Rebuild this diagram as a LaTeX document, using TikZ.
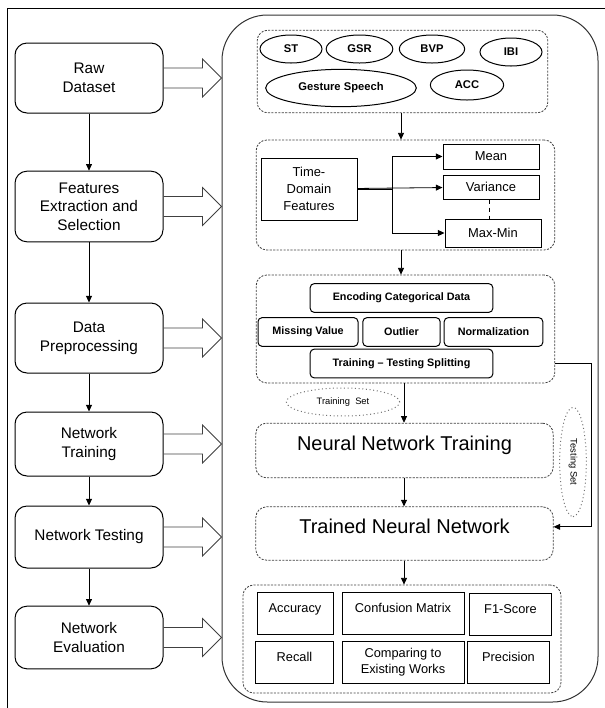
\documentclass[tikz,border=0pt]{standalone}
\usepackage{fontspec}
\setmainfont{Liberation Sans}
\usetikzlibrary{arrows.meta,shapes.geometric}

\tikzset{every picture/.style={line width=0.75pt}}
\tikzset{
  stepbox/.style={draw, rounded corners=9pt, minimum width=111pt, align=center, inner sep=0pt, font=\fontsize{11.5}{14}\selectfont},
  dashbox/.style={draw=black!75, dash pattern=on 1.6pt off 1pt, line width=0.6pt, rounded corners=8pt, inner sep=0pt},
  sensor/.style={draw, ellipse, inner sep=0pt, font=\bfseries\fontsize{8.4}{10}\selectfont},
  featbox/.style={draw, rectangle, inner sep=0pt, align=center, minimum width=72pt, font=\fontsize{9.7}{12.75}\selectfont},
  prepbox/.style={draw, rounded corners=3pt, inner sep=0pt, minimum height=21.5pt, font=\bfseries\fontsize{8.1}{10}\selectfont},
  setoval/.style={draw=black!55, ellipse, dotted, inner sep=0pt, font=\fontsize{7}{8}\selectfont},
  bigtext/.style={font=\fontsize{15}{18}\selectfont, text height=11pt, text depth=10.5pt},
  metric/.style={draw, rectangle, inner sep=0pt, align=center, font=\fontsize{9.6}{11.75}\selectfont},
  metrictop/.style={text height=7pt, text depth=8pt},
  flow/.style={-{Triangle[length=5pt,width=4.5pt]}, line width=0.6pt},
}
\newcommand{\fatarrow}[1]{\draw[black!75, line width=0.6pt] (#1.east) ++(0,-10) -- ++(39,0) -- ++(0,-9) -- ++(19,19) -- ++(-19,19) -- ++(0,-9) -- ++(-39,0);}

\begin{document}
\begin{tikzpicture}[x=0.75pt,y=0.75pt,yscale=-1,xscale=1]
	\useasboundingbox (0,0) rectangle (605,708);

	%Frame
	\draw (7,708) -- (7,8) -- (605,8);
	%Rounded panel
	\node[draw=black!80, rounded corners=34pt, minimum width=282pt, minimum height=515.25pt] (panel) at (410,358.5) {};

	%Left steps
	\node[stepbox, minimum height=52.5pt] (raw) at (89,78) {Raw\\Dataset};
	\node[stepbox, minimum height=53pt] (feat) at (89,206.5) {Features\\Extraction and\\Selection};
	\node[stepbox, minimum height=52.5pt] (prep) at (89,338) {Data\\Preprocessing};
	\node[stepbox, minimum height=48pt] (train) at (89,444) {Network\\Training};
	\node[stepbox, minimum height=46.5pt] (test) at (89,537) {Network Testing};
	\node[stepbox, minimum height=47pt] (eval) at (89,637.5) {Network\\Evaluation};

	\draw[flow] (raw) -- (feat);
	\draw[flow] (feat) -- (prep);
	\draw[flow] (prep) -- (train);
	\draw[flow] (train) -- (test);
	\draw[flow] (test) -- (eval);

	%Hollow arrows
	\fatarrow{raw}
	\fatarrow{feat}
	\fatarrow{prep}
	\fatarrow{train}
	\fatarrow{test}
	\fatarrow{eval}

	%Signals
	\node[dashbox, minimum width=218pt, minimum height=62pt] (sens) at (402.5,71.5) {};
	\node[sensor, minimum width=46.5pt, minimum height=21pt] (st) at (291,49) {ST};
	\node[sensor, minimum width=50pt, minimum height=21pt] (gsr) at (359.5,49) {GSR};
	\node[sensor, minimum width=49pt, minimum height=21pt] (bvp) at (432,49) {BVP};
	\node[sensor, minimum width=46.5pt, minimum height=21pt] (ibi) at (511,52) {IBI};
	\node[sensor, minimum width=113pt, minimum height=28pt] (gest) at (341,88) {Gesture Speech};
	\node[sensor, minimum width=55pt, minimum height=22.5pt] (acc) at (467,85) {ACC};

	%Features
	\node[dashbox, minimum width=224pt, minimum height=82.5pt] (featpanel) at (405.5,195) {};
	\node[featbox, minimum height=46.5pt] (td) at (309,189) {Time-\\Domain\\Features};
	\node[featbox, minimum height=18.75pt] (mean) at (491,156.5) {Mean};
	\node[featbox, minimum height=18pt] (var) at (491,187) {Variance};
	\node[featbox, minimum height=21pt] (maxmin) at (493,233) {Max-Min};
	\coordinate (fork) at (392,189);
	\draw[line width=0.6pt] (td) -- (fork);
	\draw[flow] (fork) |- (mean);
	\draw[flow] (td) -- (var);
	\draw[flow] (fork) |- (maxmin);
	\draw[dashed, line width=0.5pt] (var.south -| 489,0) -- (maxmin.north -| 489,0);

	\draw[flow] (sens.south -| 401,0) -- (featpanel.north -| 401,0);

	%Preprocessing
	\node[dashbox, minimum width=224pt, minimum height=81pt] (preppanel) at (405.5,329) {};
	\node[prepbox, minimum width=137pt] (enc) at (401.5,298) {Encoding Categorical Data};
	\node[prepbox, minimum width=75pt] (miss) at (308,332) {Missing Value};
	\node[prepbox, minimum width=58pt] (outl) at (401.5,332) {Outlier};
	\node[prepbox, minimum width=74pt] (norm) at (493.5,332) {Normalization};
	\node[prepbox, minimum width=137pt] (split) at (401.5,363.5) {Training -- Testing Splitting};

	\draw[flow] (featpanel.south -| 401,0) -- (preppanel.north -| 401,0);

	%Training and testing
	\node[setoval, minimum width=85pt, minimum height=21pt] (trainset) at (343,402) {Training\ \ Set};
	\node[dashbox, bigtext, minimum width=223pt, minimum height=41pt] (nntrain) at (404.5,450.5) {Neural Network Training};
	\node[dashbox, bigtext, minimum width=223pt, minimum height=40pt] (trained) at (404.5,533.5) {Trained Neural Network};
	\node[setoval, rotate=-90, minimum width=82pt, minimum height=20pt] (testset) at (573,462) {Testing Set};

	\draw[flow] (preppanel.south -| 404,0) -- (nntrain.north -| 404,0);
	\draw[flow] (nntrain.south -| 404,0) -- (trained.north -| 404,0);
	\draw[flow] (preppanel.east |- split) -- ++(36,0) |- ([yshift=-5pt]trained.east);

	%Evaluation
	\node[dashbox, minimum width=238.5pt, minimum height=81pt] (evalpanel) at (402,639) {};
	\node[metric, metrictop, minimum width=57pt, minimum height=31.5pt] (accu) at (295,613) {Accuracy};
	\node[metric, metrictop, minimum width=91.5pt, minimum height=31.5pt] (conf) at (403,613) {Confusion Matrix};
	\node[metric, metrictop, minimum width=61pt, minimum height=32pt] (fone) at (510.5,614.5) {F1-Score};
	\node[metric, metrictop, minimum width=58pt, minimum height=31pt] (recall) at (294.5,662.5) {Recall};
	\node[metric, minimum width=91.5pt, minimum height=31pt] (comp) at (403,662.5) {Comparing to\\Existing Works};
	\node[metric, metrictop, minimum width=61pt, minimum height=31pt] (prec) at (508.5,662.5) {Precision};

	\draw[flow] (trained.south -| 404,0) -- (evalpanel.north -| 404,0);
\end{tikzpicture}
\end{document}
